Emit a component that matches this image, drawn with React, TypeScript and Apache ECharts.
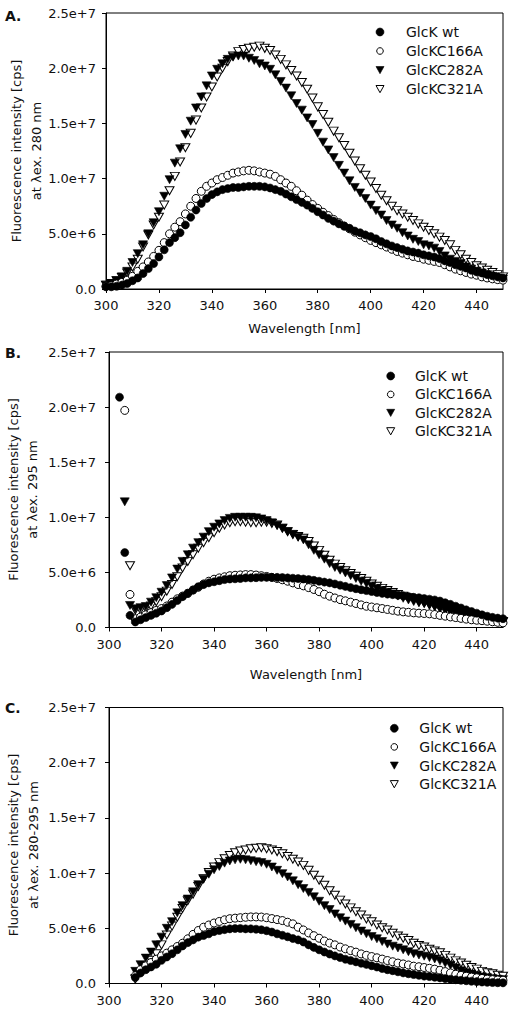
import React, { useEffect, useRef } from 'react';
import * as echarts from 'echarts';

// ---------- data ----------
const WAVELENGTHS = [
  300, 302, 304, 306, 308, 310, 312, 314, 316, 318, 320, 322, 324, 326, 328,
  330, 332, 334, 336, 338, 340, 342, 344, 346, 348, 350, 352, 354, 356, 358,
  360, 362, 364, 366, 368, 370, 372, 374, 376, 378, 380, 382, 384, 386, 388,
  390, 392, 394, 396, 398, 400, 402, 404, 406, 408, 410, 412, 414, 416, 418,
  420, 422, 424, 426, 428, 430, 432, 434, 436, 438, 440, 442, 444, 446, 448, 450,
];

const SERIES_NAMES = ['GlcK wt', 'GlcKC166A', 'GlcKC282A', 'GlcKC321A'];
const X_TICKS = [300, 320, 340, 360, 380, 400, 420, 440];
const Y_TICK_LABELS = ['0.0', '5.0e+6', '1.0e+7', '1.5e+7', '2.0e+7', '2.5e+7'];
const Y_TICK_STEP = 5e6;
const Y_MAX = 2.5e7;
const VALUE_UNIT = 1e6; // values below are in 1e6 cps

// Panel A (λex 280 nm)
const A_WT = [
  0.2, 0.2, 0.25, 0.35, 0.5, 0.75, 1.0, 1.4, 1.85, 2.3, 2.9, 3.55, 4.2, 4.65, 5.1,
  5.8, 6.5, 7.15, 7.75, 8.2, 8.55, 8.8, 9.0, 9.1, 9.2, 9.2, 9.25, 9.3, 9.3, 9.3,
  9.25, 9.15, 9.0, 8.85, 8.6, 8.35, 8.1, 7.85, 7.6, 7.3, 7.0, 6.7, 6.4, 6.15, 5.9,
  5.7, 5.5, 5.25, 5.1, 4.9, 4.75, 4.55, 4.3, 4.1, 3.9, 3.75, 3.6, 3.45, 3.35, 3.25,
  3.1, 3.0, 2.9, 2.75, 2.55, 2.4, 2.2, 2.05, 1.9, 1.7, 1.55, 1.45, 1.3, 1.2, 1.1, 1.0,
];
const A_C166A = [
  0.25, 0.3, 0.45, 0.6, 0.8, 1.15, 1.6, 2.0, 2.45, 2.95, 3.5, 4.2, 5.0, 5.6, 6.1,
  6.8, 7.5, 8.2, 8.85, 9.3, 9.6, 9.9, 10.1, 10.3, 10.5, 10.6, 10.7, 10.75, 10.7, 10.6,
  10.5, 10.4, 10.2, 9.9, 9.6, 9.3, 8.9, 8.5, 8.05, 7.65, 7.3, 6.95, 6.65, 6.3, 6.0,
  5.7, 5.45, 5.15, 4.9, 4.65, 4.4, 4.2, 4.0, 3.8, 3.6, 3.4, 3.25, 3.1, 2.95, 2.85,
  2.7, 2.6, 2.5, 2.4, 2.2, 2.0, 1.8, 1.65, 1.5, 1.35, 1.25, 1.1, 1.0, 0.92, 0.85, 0.8,
];
const A_C282A = [
  0.35, 0.5, 0.75, 1.1, 1.6, 2.4, 3.2, 4.0, 5.0, 6.0, 7.0, 8.4, 9.9, 11.4, 12.7,
  14.0, 15.2, 16.4, 17.4, 18.4, 19.3, 19.9, 20.4, 20.8, 21.0, 21.1, 21.1, 20.9, 20.7, 20.4,
  20.2, 19.9, 19.4, 18.8, 18.2, 17.5, 16.8, 16.2, 15.5, 14.9, 14.1, 13.3, 12.6, 11.9, 11.2,
  10.5, 9.8, 9.2, 8.7, 8.2, 7.6, 7.1, 6.7, 6.2, 5.8, 5.5, 5.1, 4.8, 4.5, 4.3,
  4.0, 3.9, 3.7, 3.4, 3.0, 2.7, 2.5, 2.3, 2.0, 1.8, 1.6, 1.45, 1.3, 1.15, 1.0, 0.9,
];
const A_C321A = [
  0.35, 0.5, 0.75, 1.05, 1.45, 2.0, 2.7, 3.8, 4.9, 5.8, 6.5, 7.6, 8.9, 10.2, 11.5,
  12.8, 14.1, 15.3, 16.4, 17.4, 18.3, 19.2, 20.0, 20.6, 21.1, 21.5, 21.7, 21.8, 21.9, 22.0,
  21.8, 21.6, 21.2, 20.8, 20.3, 19.8, 19.3, 18.7, 18.1, 17.3, 16.5, 15.8, 15.1, 14.3, 13.7,
  13.0, 12.3, 11.6, 10.9, 10.3, 9.7, 9.1, 8.5, 8.0, 7.5, 7.1, 6.8, 6.5, 6.2, 5.9,
  5.6, 5.3, 5.0, 4.7, 4.4, 4.0, 3.5, 3.1, 2.7, 2.4, 2.1, 1.9, 1.7, 1.5, 1.3, 1.1,
];

// Panel B (λex 295 nm)
const B_WT = [
  null, null, 20.9, 6.8, 1.1, 0.5, 0.7, 0.9, 1.1, 1.3, 1.5, 1.8, 2.1, 2.45, 2.8,
  3.1, 3.4, 3.7, 3.9, 4.05, 4.15, 4.25, 4.35, 4.4, 4.42, 4.45, 4.5, 4.5, 4.52, 4.55,
  4.55, 4.55, 4.55, 4.53, 4.5, 4.47, 4.44, 4.4, 4.35, 4.28, 4.2, 4.12, 4.05, 3.95, 3.84,
  3.73, 3.62, 3.52, 3.43, 3.35, 3.27, 3.18, 3.1, 3.03, 2.98, 2.93, 2.87, 2.8, 2.74, 2.7,
  2.63, 2.57, 2.5, 2.4, 2.25, 2.1, 1.93, 1.77, 1.6, 1.45, 1.3, 1.15, 1.02, 0.92, 0.85, 0.8,
];
const B_C166A = [
  null, null, null, 19.7, 3.0, 0.8, 0.95, 1.15, 1.35, 1.55, 1.72, 1.95, 2.3, 2.6, 2.85,
  3.1, 3.4, 3.65, 3.95, 4.2, 4.38, 4.5, 4.6, 4.7, 4.74, 4.77, 4.8, 4.8, 4.76, 4.7,
  4.63, 4.55, 4.45, 4.33, 4.2, 4.05, 3.9, 3.78, 3.62, 3.45, 3.25, 3.02, 2.84, 2.68, 2.53,
  2.42, 2.3, 2.18, 2.05, 1.93, 1.86, 1.79, 1.72, 1.64, 1.56, 1.48, 1.42, 1.38, 1.33, 1.3,
  1.27, 1.24, 1.18, 1.1, 1.03, 0.96, 0.9, 0.83, 0.76, 0.7, 0.66, 0.62, 0.57, 0.52, 0.47, 0.42,
];
const B_C282A = [
  null, null, null, 11.4, 2.0, 1.7, 1.8, 1.9, 2.3, 2.7, 3.2, 3.8, 4.5, 5.3, 6.0,
  6.6, 7.2, 7.7, 8.2, 8.7, 9.1, 9.4, 9.7, 9.9, 10.0, 10.0, 10.0, 10.0, 9.95, 9.85,
  9.7, 9.5, 9.25, 9.0, 8.7, 8.45, 8.2, 7.95, 7.5, 7.0, 6.6, 6.2, 5.8, 5.45, 5.2,
  4.95, 4.7, 4.45, 4.2, 4.0, 3.75, 3.55, 3.35, 3.2, 3.05, 2.85, 2.65, 2.5, 2.35, 2.25,
  2.18, 2.05, 1.9, 1.75, 1.6, 1.45, 1.33, 1.2, 1.1, 1.0, 0.92, 0.82, 0.74, 0.65, 0.57, 0.5,
];
const B_C321A = [
  null, null, null, null, 5.6, 1.6, 1.6, 1.75, 1.95, 2.35, 2.8, 3.3, 3.9, 4.6, 5.4,
  6.0, 6.6, 7.2, 7.7, 8.15, 8.6, 9.0, 9.3, 9.5, 9.6, 9.6, 9.55, 9.5, 9.5, 9.55,
  9.55, 9.45, 9.3, 9.0, 8.7, 8.45, 8.25, 8.1, 7.8, 7.4, 7.0, 6.55, 6.1, 5.75, 5.45,
  5.15, 4.9, 4.65, 4.45, 4.2, 3.95, 3.75, 3.55, 3.35, 3.18, 3.0, 2.84, 2.7, 2.5, 2.33,
  2.2, 2.05, 1.9, 1.75, 1.6, 1.45, 1.33, 1.2, 1.08, 0.98, 0.9, 0.8, 0.72, 0.62, 0.57, 0.55,
];

// Panel C (λex 280-295 nm)
const C_WT = [
  null, null, null, null, null, 0.55, 0.95, 1.25, 1.5, 1.75, 2.1, 2.4, 2.7, 3.05, 3.4,
  3.7, 3.95, 4.2, 4.35, 4.5, 4.7, 4.8, 4.88, 4.95, 4.98, 4.98, 4.95, 4.95, 4.92, 4.87,
  4.78, 4.66, 4.5, 4.37, 4.23, 4.08, 3.95, 3.76, 3.5, 3.27, 3.05, 2.85, 2.67, 2.5, 2.35,
  2.2, 2.08, 1.96, 1.84, 1.73, 1.61, 1.49, 1.36, 1.25, 1.16, 1.06, 0.96, 0.88, 0.81, 0.74,
  0.67, 0.63, 0.57, 0.51, 0.44, 0.39, 0.34, 0.29, 0.25, 0.21, 0.17, 0.13, 0.11, 0.09, 0.07, 0.06,
];
const C_C166A = [
  null, null, null, null, null, 0.7, 1.25, 1.6, 1.9, 2.2, 2.5, 2.75, 3.05, 3.35, 3.65,
  4.05, 4.45, 4.8, 5.1, 5.3, 5.48, 5.62, 5.77, 5.87, 5.92, 5.96, 6.0, 6.03, 6.03, 6.02,
  5.96, 5.88, 5.79, 5.7, 5.55, 5.4, 5.1, 4.85, 4.58, 4.33, 4.1, 3.85, 3.66, 3.5, 3.3,
  3.14, 2.98, 2.84, 2.68, 2.55, 2.44, 2.33, 2.21, 2.08, 1.97, 1.85, 1.77, 1.68, 1.57, 1.52,
  1.45, 1.38, 1.3, 1.2, 1.08, 0.96, 0.84, 0.74, 0.66, 0.58, 0.52, 0.46, 0.4, 0.35, 0.32, 0.3,
];
const C_C282A = [
  null, null, null, null, null, 1.1, 1.7, 2.3, 2.85, 3.5, 4.2, 5.0, 5.6, 6.4, 7.05,
  7.65, 8.3, 8.95, 9.45, 9.9, 10.3, 10.6, 10.9, 11.1, 11.2, 11.25, 11.2, 11.12, 11.03, 10.95,
  10.8, 10.55, 10.25, 9.95, 9.65, 9.3, 8.95, 8.6, 8.25, 7.85, 7.45, 7.05, 6.7, 6.3, 5.95,
  5.65, 5.35, 5.05, 4.75, 4.5, 4.25, 4.05, 3.8, 3.57, 3.38, 3.22, 3.05, 2.88, 2.7, 2.58,
  2.47, 2.35, 2.22, 2.05, 1.85, 1.65, 1.4, 1.15, 0.98, 0.85, 0.72, 0.6, 0.52, 0.44, 0.38, 0.35,
];
const C_C321A = [
  null, null, null, null, null, 0.4, 1.0, 1.55, 2.1, 2.7, 3.5, 4.4, 5.2, 6.0, 6.8,
  7.5, 8.1, 8.8, 9.5, 10.05, 10.55, 10.95, 11.3, 11.6, 11.85, 12.0, 12.1, 12.2, 12.25, 12.3,
  12.2, 12.1, 11.95, 11.75, 11.5, 11.25, 11.0, 10.7, 10.25, 9.8, 9.35, 8.9, 8.4, 8.0, 7.55,
  7.2, 6.85, 6.5, 6.2, 5.85, 5.6, 5.3, 5.05, 4.85, 4.55, 4.3, 4.1, 3.9, 3.65, 3.45,
  3.3, 3.1, 2.95, 2.78, 2.55, 2.3, 2.05, 1.85, 1.65, 1.45, 1.3, 1.1, 0.98, 0.88, 0.75, 0.65,
];

const PANEL_LETTERS = ['A.', 'B.', 'C.'];
const Y_TITLE_LINE1 = 'Fluorescence intensity [cps]';
const Y_TITLE_LINE2 = ['at λex. 280 nm', 'at λex. 295 nm', 'at λex. 280-295 nm'];
const X_TITLES = ['Wavelength [nm]', 'Wavelength [nm]', ''];
const PANEL_VALUES = [
  [A_WT, A_C166A, A_C282A, A_C321A],
  [B_WT, B_C166A, B_C282A, B_C321A],
  [C_WT, C_C166A, C_C282A, C_C321A],
];

// ---------- layout / style ----------
const FONT = '"DejaVu Sans", "Liberation Sans", sans-serif';
const TEXT_COLOR = '#111';
const TRI_DOWN = 'path://M0,0L10,0L5,9Z';

const LAYOUT = [
  {
    grid: { left: 106, top: 13, width: 397, height: 276 },
    letterY: 15.5, titleX: [16.7, 36], titleY: 151, nameGap: 33, yLabelMargin: 10,
    legend: { markerX: 380, textX: 406, top: 32, step: 19 },
  },
  {
    grid: { left: 109, top: 352, width: 394, height: 275.5 },
    letterY: 352.5, titleX: [13.7, 32.8], titleY: 489.5, nameGap: 40, yLabelMargin: 13,
    legend: { markerX: 390.7, textX: 415, top: 376, step: 18.4 },
  },
  {
    grid: { left: 109, top: 707.5, width: 394, height: 276 },
    letterY: 708, titleX: [13.3, 33.3], titleY: 845, nameGap: 40, yLabelMargin: 13,
    legend: { markerX: 394.3, textX: 419.3, top: 728.3, step: 18.6 },
  },
];

const SERIES_STYLE = [
  { symbol: 'circle', symbolSize: 8, fill: '#000', itemStyle: { color: '#000', borderColor: '#000', borderWidth: 0.6, opacity: 1 }, z: 5 },
  { symbol: 'circle', symbolSize: 8, fill: '#fff', itemStyle: { color: '#fff', borderColor: '#000', borderWidth: 1, opacity: 1 }, z: 4 },
  { symbol: TRI_DOWN, symbolSize: [9, 8], fill: '#000', itemStyle: { color: '#000', borderColor: '#000', borderWidth: 0.6, opacity: 1 }, z: 3 },
  { symbol: TRI_DOWN, symbolSize: [9, 8], fill: '#fff', itemStyle: { color: '#fff', borderColor: '#000', borderWidth: 1, opacity: 1 }, z: 2 },
];

function toPoints(values: (number | null)[]) {
  const pts: number[][] = [];
  values.forEach((v, i) => {
    if (v !== null) pts.push([WAVELENGTHS[i], v * VALUE_UNIT]);
  });
  return pts;
}

function legendMarker(s: number, cx: number, cy: number) {
  const st = SERIES_STYLE[s];
  const style = { fill: st.fill, stroke: '#000', lineWidth: st.fill === '#fff' ? 1 : 0.6 };
  if (st.symbol === 'circle') {
    const r = st.fill === '#fff' ? 3.3 : 4;
    return { type: 'circle', shape: { cx, cy, r }, style, silent: true, z: 10 };
  }
  return {
    type: 'polygon',
    shape: { points: [[cx - 4, cy - 3.5], [cx + 4, cy - 3.5], [cx, cy + 3.7]] },
    style,
    silent: true,
    z: 10,
  };
}

function buildOption() {
  const grids: any[] = [];
  const xAxes: any[] = [];
  const yAxes: any[] = [];
  const series: any[] = [];
  const graphics: any[] = [];

  LAYOUT.forEach((L, p) => {
    grids.push({
      ...L.grid,
      show: true,
      borderColor: '#000',
      borderWidth: 1,
      backgroundColor: 'transparent',
      containLabel: false,
    });
    xAxes.push({
      type: 'value',
      gridIndex: p,
      min: 300,
      max: 450,
      interval: 20,
      name: X_TITLES[p],
      nameLocation: 'middle',
      nameGap: L.nameGap,
      nameTextStyle: { fontFamily: FONT, fontSize: 13, color: TEXT_COLOR },
      axisLine: { show: true, onZero: false, lineStyle: { color: '#000', width: 1 } },
      axisTick: { show: true, length: 4, inside: false, customValues: X_TICKS, lineStyle: { color: '#000' } },
      axisLabel: {
        show: true,
        margin: 10,
        customValues: X_TICKS,
        fontFamily: FONT,
        fontSize: 13,
        color: TEXT_COLOR,
      },
      splitLine: { show: false },
    });
    yAxes.push({
      type: 'value',
      gridIndex: p,
      min: 0,
      max: Y_MAX,
      interval: Y_TICK_STEP,
      axisLine: { show: true, onZero: false, lineStyle: { color: '#000', width: 1 } },
      axisTick: { show: true, length: 4, inside: false, lineStyle: { color: '#000' } },
      axisLabel: {
        show: true,
        margin: L.yLabelMargin,
        fontFamily: FONT,
        fontSize: 13,
        color: TEXT_COLOR,
        formatter: (v: number) => Y_TICK_LABELS[Math.round(v / Y_TICK_STEP)] ?? '',
      },
      splitLine: { show: false },
    });

    PANEL_VALUES[p].forEach((vals, s) => {
      const st = SERIES_STYLE[s];
      series.push({
        type: 'scatter',
        name: SERIES_NAMES[s],
        xAxisIndex: p,
        yAxisIndex: p,
        data: toPoints(vals),
        symbol: st.symbol,
        symbolSize: st.symbolSize,
        symbolKeepAspect: false,
        itemStyle: st.itemStyle,
        z: st.z,
        clip: false,
        silent: true,
        emphasis: { disabled: true },
      });
    });

    // legend (drawn as graphic so marker/text spacing matches the figure)
    SERIES_NAMES.forEach((name, s) => {
      const cy = L.legend.top + s * L.legend.step;
      graphics.push(legendMarker(s, L.legend.markerX, cy));
      graphics.push({
        type: 'text',
        x: L.legend.textX,
        y: cy,
        silent: true,
        style: {
          text: name,
          fontFamily: FONT,
          fontSize: 14,
          fill: TEXT_COLOR,
          align: 'left',
          verticalAlign: 'middle',
        },
      });
    });

    graphics.push({
      type: 'text',
      x: 5,
      y: L.letterY,
      silent: true,
      style: {
        text: PANEL_LETTERS[p],
        fontFamily: FONT,
        fontSize: 14,
        fontWeight: 'bold',
        fill: TEXT_COLOR,
        align: 'left',
        verticalAlign: 'middle',
      },
    });
    graphics.push({
      type: 'text',
      x: L.titleX[0],
      y: L.titleY,
      rotation: Math.PI / 2,
      silent: true,
      style: {
        text: Y_TITLE_LINE1,
        fontFamily: FONT,
        fontSize: 13,
        fill: TEXT_COLOR,
        align: 'center',
        verticalAlign: 'middle',
      },
    });
    graphics.push({
      type: 'text',
      x: L.titleX[1],
      y: L.titleY,
      rotation: Math.PI / 2,
      silent: true,
      style: {
        text: Y_TITLE_LINE2[p],
        fontFamily: FONT,
        fontSize: 13,
        fill: TEXT_COLOR,
        align: 'center',
        verticalAlign: 'middle',
      },
    });
  });

  return {
    animation: false,
    backgroundColor: '#fff',
    textStyle: { fontFamily: FONT },
    grid: grids,
    xAxis: xAxes,
    yAxis: yAxes,
    series,
    graphic: graphics,
  };
}

export default function App() {
  const ref = useRef<HTMLDivElement>(null);
  useEffect(() => {
    document.body.style.margin = '0';
    if (!ref.current) return;
    const chart = echarts.init(ref.current, undefined, { renderer: 'svg' });
    chart.setOption(buildOption() as any);
    return () => chart.dispose();
  }, []);
  return <div ref={ref} style={{ width: 512, height: 1011 }} />;
}
